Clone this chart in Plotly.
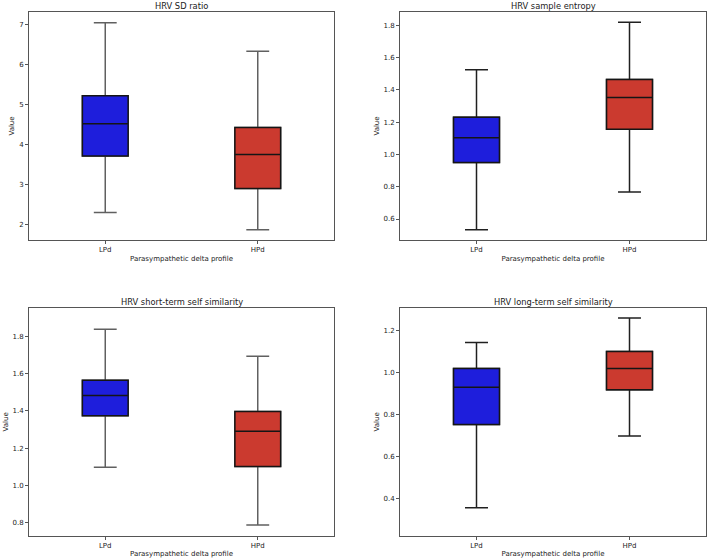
import plotly.graph_objects as go

groups = ["LPd", "HPd"]
titles = ["HRV SD ratio", "HRV sample entropy",
          "HRV short-term self similarity", "HRV long-term self similarity"]

# per panel: [LPd, HPd]
lower = [[2.30, 1.865], [0.534, 0.768], [1.097, 0.787], [0.355, 0.698]]
q1 = [[3.71, 2.90], [0.950, 1.157], [1.374, 1.102], [0.752, 0.918]]
median = [[4.515, 3.75], [1.103, 1.353], [1.483, 1.290], [0.930, 1.019]]
q3 = [[5.215, 4.425], [1.231, 1.465], [1.564, 1.397], [1.020, 1.100]]
upper = [[7.04, 6.33], [1.525, 1.819], [1.838, 1.693], [1.144, 1.260]]

yranges = [[1.61, 7.31], [0.47, 1.883], [0.730, 1.952], [0.222, 1.308]]
ydtick = [1, 0.2, 0.2, 0.2]
yfmt = ["d", ".1f", ".1f", ".1f"]

colors = ["#1e1edc", "#cb3a2f"]
whisker_cols = ["#606060", "#202020", "#606060", "#202020"]
edge_col = "#151515"

W, H = 708, 558
xdoms_px = [(29, 334), (400, 706), (29, 334), (400, 706)]
ydoms_px = [(12, 240), (12, 240), (308, 535.7), (308, 535.7)]

fig = go.Figure()
font = "DejaVu Sans"
annotations = []
for i in range(4):
    ax = "" if i == 0 else str(i + 1)
    for g in range(2):
        # full box with whiskers (whisker colour)
        fig.add_trace(go.Box(
            x=[groups[g]], q1=[q1[i][g]], median=[median[i][g]], q3=[q3[i][g]],
            lowerfence=[lower[i][g]], upperfence=[upper[i][g]],
            fillcolor=colors[g], line=dict(color=whisker_cols[i], width=1.5),
            width=0.3, whiskerwidth=0.5, boxpoints=False, showlegend=False,
            xaxis="x" + ax, yaxis="y" + ax, hoverinfo="skip"))
        # box body with dark edge on top
        fig.add_trace(go.Box(
            x=[groups[g]], q1=[q1[i][g]], median=[median[i][g]], q3=[q3[i][g]],
            lowerfence=[q1[i][g]], upperfence=[q3[i][g]],
            fillcolor=colors[g], line=dict(color=edge_col, width=1.5),
            width=0.3, whiskerwidth=0, boxpoints=False, showlegend=False,
            xaxis="x" + ax, yaxis="y" + ax, hoverinfo="skip"))
    x0, x1 = xdoms_px[i]
    y0, y1 = ydoms_px[i]
    xd = [x0 / W, x1 / W]
    yd = [1 - y1 / H, 1 - y0 / H]
    axcommon = dict(showline=True, mirror=True, linecolor="#555555", linewidth=1,
                    ticks="outside", ticklen=3, tickcolor="#555555",
                    showgrid=False, zeroline=False,
                    tickfont=dict(family=font, size=7, color="#222222"))
    fig.update_layout(**{
        "xaxis" + ax: dict(domain=xd, anchor="y" + ax, type="category",
                           categoryorder="array", categoryarray=groups,
                           range=[-0.5, 1.5],
                           title=dict(text="Parasympathetic delta profile",
                                      font=dict(family=font, size=7, color="#222222"),
                                      standoff=2),
                           **axcommon),
        "yaxis" + ax: dict(domain=yd, anchor="x" + ax, range=yranges[i],
                           dtick=ydtick[i], tickformat=yfmt[i],
                           title=dict(text="Value",
                                      font=dict(family=font, size=7, color="#222222"),
                                      standoff=3),
                           **axcommon),
    })
    annotations.append(dict(text=titles[i], x=(xd[0] + xd[1]) / 2, y=yd[1],
                            xref="paper", yref="paper", xanchor="center",
                            yanchor="bottom", yshift=-1, showarrow=False,
                            font=dict(family=font, size=8.3, color="#222222")))

fig.update_layout(width=W, height=H, margin=dict(l=0, r=0, t=0, b=0),
                  paper_bgcolor="white", plot_bgcolor="white",
                  annotations=annotations, boxmode="overlay")
fig.write_html("out.html", config={"displayModeBar": False},
               post_script="document.body.style.margin='0';document.body.style.overflow='hidden';")
